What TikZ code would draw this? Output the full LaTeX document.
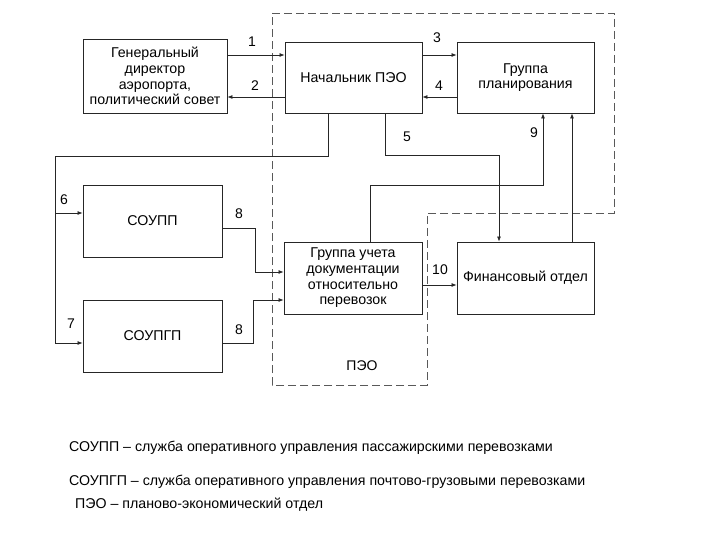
\documentclass[tikz,border=0pt]{standalone}
\usepackage{fontspec}
\setmainfont{Liberation Sans}
\usetikzlibrary{arrows.meta}
\tikzset{
  box/.style={draw=black!85, line width=0.9pt, align=center, inner sep=1pt,
    font=\fontsize{14.2}{15.7}\selectfont},
  arr/.style={draw=black!85, line width=0.7pt, -{Latex[length=5pt,width=4pt]}},
  ln/.style={draw=black!85, line width=0.7pt},
  num/.style={font=\fontsize{14}{15}\selectfont, inner sep=0pt},
  legend/.style={anchor=west, inner sep=0pt, font=\fontsize{14.2}{16}\selectfont},
  peo/.style={draw=black!65, line width=0.9pt, dash pattern=on 8pt off 4pt}
}
\begin{document}
\begin{tikzpicture}[x=1pt,y=-1pt]
\useasboundingbox (0,0) rectangle (720,540);
% dashed boundary
\draw[peo] (272,13) -- (614,13) -- (614,213) -- (427,213) -- (427,385) -- (272,385) -- cycle;
% boxes
\node[box, minimum width=144pt, minimum height=74pt] (gen) at (155,76) {Генеральный\\директор\\аэропорта,\\политический совет};
\node[box, minimum width=137pt, minimum height=71pt] (nach) at (353.5,77.5) {Начальник ПЭО};
\node[box, minimum width=137pt, minimum height=71pt] (plan) at (525.5,77.5) {Группа\\планирования};
\node[box, minimum width=139pt, minimum height=72pt] (soupp) at (152.5,221) {СОУПП};
\node[box, minimum width=139pt, minimum height=72pt] (soupgp) at (152.5,336) {СОУПГП};
\node[box, minimum width=138pt, minimum height=72pt] (uchet) at (353,278) {Группа учета\\документации\\относительно\\перевозок};
\node[box, minimum width=137pt, minimum height=72pt] (fin) at (525.5,278) {Финансовый отдел};
% connectors
\draw[arr] (gen.east |- 0,55) -- (nach.west |- 0,55);
\draw[arr] (nach.west |- 0,97) -- (gen.east |- 0,97);
\draw[arr] (nach.east |- 0,55) -- (plan.west |- 0,55);
\draw[arr] (plan.west |- 0,97) -- (nach.east |- 0,97);
\draw[arr] (nach.south -| 328,0) -- (328,156) -- (55,156) -- (55,343) -- (soupgp.west |- 0,343);
\draw[arr] (55,213) -- (soupp.west |- 0,213);
\draw[arr] (nach.south -| 385,0) -- (385,155) -- (499,155) -- (fin.north -| 499,0);
\draw[arr] (soupp.east |- 0,228) -- (255,228) -- (255,272) -- (uchet.west |- 0,272);
\draw[arr] (soupgp.east |- 0,343) -- (253,343) -- (253,300) -- (uchet.west |- 0,300);
\draw[arr] (uchet.north -| 370,0) -- (370,185) -- (543,185) -- (plan.south -| 543,0);
\draw[arr] (fin.north -| 572,0) -- (plan.south -| 572,0);
\draw[arr] (uchet.east |- 0,285) -- (fin.west |- 0,285);
% numbers
\node[num] (n1) at (252,42) {1};
\node[num] (n2) at (255,86) {2};
\node[num] (n3) at (437,38) {3};
\node[num] (n4) at (439,86) {4};
\node[num] (n5) at (407,137) {5};
\node[num] (n9) at (534,133) {9};
\node[num] (n6) at (64,200) {6};
\node[num] (n7) at (71,324) {7};
\node[num] (n8a) at (239,214) {8};
\node[num] (n8b) at (239,330) {8};
\node[num] (n10) at (440,270) {10};
\node[num] (lpeo) at (362,366) {ПЭО};
% legend
\node[legend] (l1) at (69,448) {СОУПП – служба оперативного управления пассажирскими перевозками};
\node[legend] (l2) at (69,482) {СОУПГП – служба оперативного управления почтово-грузовыми перевозками};
\node[legend] (l3) at (75,505) {ПЭО – планово-экономический отдел};
\end{tikzpicture}
\end{document}
